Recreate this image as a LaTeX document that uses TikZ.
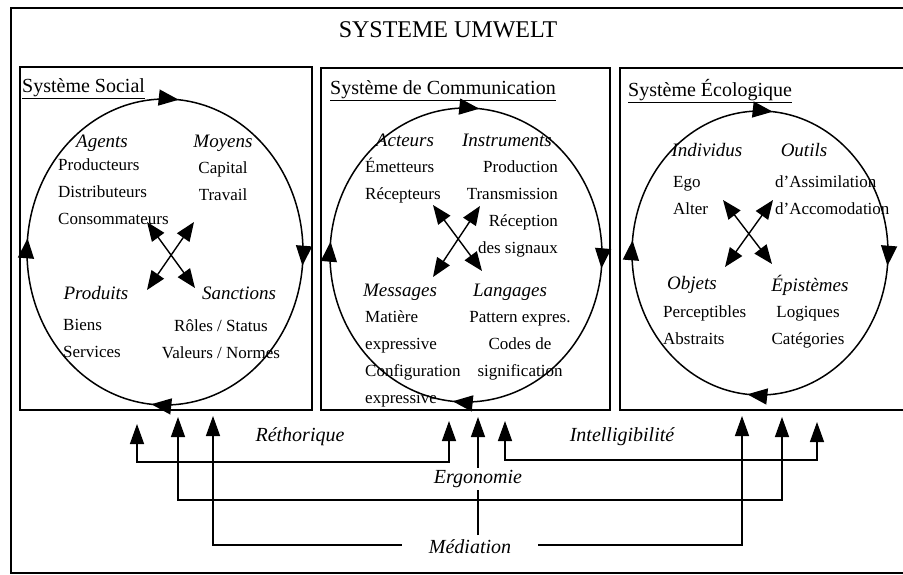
\documentclass[tikz,border=0pt]{standalone}
\usepackage{fontspec}
\setmainfont{Liberation Serif}
\usetikzlibrary{arrows.meta,decorations.markings,backgrounds}
\tikzset{
  frame/.style={line width=1.6pt},
  ring/.style={line width=1.5pt, postaction={decorate},
    decoration={markings,
      mark=at position 0.015 with {\arrow{Triangle[length=20pt,width=16pt]}},
      mark=at position 0.265 with {\arrow{Triangle[length=20pt,width=16pt]}},
      mark=at position 0.515 with {\arrow{Triangle[length=20pt,width=16pt]}},
      mark=at position 0.765 with {\arrow{Triangle[length=20pt,width=16pt]}}}},
  cross/.style={line width=1.4pt,
    {Triangle[length=19pt,width=15pt]}-{Triangle[length=19pt,width=15pt]}},
  loopback/.style={line width=1.4pt,
    {Triangle[length=20pt,width=14pt]}-{Triangle[length=20pt,width=14pt]}},
  feed/.style={line width=1.4pt,-{Triangle[length=20pt,width=14pt]}},
  systitle/.style={font=\fontsize{20}{24}\selectfont, inner sep=0pt, anchor=west},
  head/.style={font=\fontsize{19}{22}\selectfont\itshape, inner sep=0pt},
  body/.style={font=\fontsize{17}{27}\selectfont, inner sep=0pt},
  flow/.style={font=\fontsize{20}{24}\selectfont\itshape, fill=white, inner sep=2pt},
}

\begin{document}
\begin{tikzpicture}[x=1pt,y=-1pt]
  \useasboundingbox (0,0) rectangle (903,575);
  % frames
  \draw[frame] (11,8) rectangle (908,573);
  \node[font=\fontsize{24}{28}\selectfont] (umwelt) at (448,30) {SYSTEME UMWELT};
  \draw[frame] (20,67) rectangle (312,410);
  \draw[frame] (321,68) rectangle (610,410);
  \draw[frame] (620,68) rectangle (908,410);
  \node[systitle] (social) at (22,89) {\underline{Système Social}};
  \node[systitle] (comm) at (330,91) {\underline{Système de Communication}};
  \node[systitle] (eco) at (628,91) {\underline{Système Écologique}};

  % cycles, clockwise
  \draw[ring] (165,252) ellipse [x radius=138, y radius=153];
  \draw[ring] (466,255) ellipse [x radius=136, y radius=147];
  \draw[ring] (760,253) ellipse [x radius=128, y radius=142];

  % crossed exchanges
  \coordinate (s-nw) at (147,222); \coordinate (s-se) at (195,288);
  \coordinate (s-ne) at (194,222); \coordinate (s-sw) at (147,290);
  \coordinate (c-nw) at (433,205); \coordinate (c-se) at (482,271);
  \coordinate (c-ne) at (480,206); \coordinate (c-sw) at (433,277);
  \coordinate (e-nw) at (723,200); \coordinate (e-se) at (772,264);
  \coordinate (e-ne) at (773,200); \coordinate (e-sw) at (725,267);
  \foreach \s in {s,c,e}{
    \draw[cross] (\s-nw) -- (\s-se);
    \draw[cross] (\s-ne) -- (\s-sw);
  }

  % social system
  \node[head] (agents) at (102,143) {Agents};
  \node[body,anchor=north west,align=left] (agents-l) at (58,159)
    {Producteurs\\Distributeurs\\Consommateurs};
  \node[head] (moyens) at (223,143) {Moyens};
  \node[body,anchor=north,align=center] (moyens-l) at (223,162)
    {Capital\\Travail};
  \node[head] (produits) at (96,293) {Produits};
  \node[body,anchor=north west,align=left] (produits-l) at (63,319)
    {Biens\\Services};
  \node[head] (sanctions) at (239,293) {Sanctions};
  \node[body,anchor=north,align=center] (sanctions-l) at (221,319)
    {Rôles / Status\\Valeurs / Normes};

  % communication system
  \node[head] (acteurs) at (405,140) {Acteurs};
  \node[body,anchor=north west,align=left] (acteurs-l) at (365,158)
    {Émetteurs\\Récepteurs};
  \node[head] (instr) at (507,140) {Instruments};
  \node[body,anchor=north east,align=right] (instr-l) at (558,161)
    {Production\\Transmission\\Réception\\des signaux};
  \node[head] (messages) at (400,292) {Messages};
  \node[body,anchor=north west,align=left] (messages-l) at (365,310)
    {Matière\\expressive\\Configuration\\expressive};
  \node[head] (langages) at (510,292) {Langages};
  \node[body,anchor=north,align=center] (langages-l) at (520,311)
    {Pattern expres.\\Codes de\\signification};

  % ecological system
  \node[head] (individus) at (707,150) {Individus};
  \node[body,anchor=north west,align=left] (individus-l) at (673,176)
    {Ego\\Alter};
  \node[head] (outils) at (804,150) {Outils};
  \node[body,anchor=north west,align=left] (outils-l) at (775,176)
    {d'Assimilation\\d'Accomodation};
  \node[head] (objets) at (692,285) {Objets};
  \node[body,anchor=north west,align=left] (objets-l) at (663,306)
    {Perceptibles\\Abstraits};
  \node[head] (epist) at (810,285) {Épistèmes};
  \node[body,anchor=north,align=center] (epist-l) at (808,306)
    {Logiques\\Catégories};

  % couplings below the systems
  \node[flow,fill=none] (rhet) at (300,437) {Réthorique};
  \node[flow,fill=none] (intel) at (622,437) {Intelligibilité};
  \node[flow] (ergo) at (478,479) {Ergonomie};
  \node[flow,inner xsep=27pt] (media) at (470,547) {Médiation};
  \foreach \n/\x/\f/\t in {ra/137/462/424, rb/449/462/421, ia/505/460/421,
      ib/817/460/422, ea/178/500/417, eb/782/500/417, ma/213/545/416,
      mb/742/545/416, md/478/535/417}{
    \coordinate (\n-foot) at (\x,\f);
    \coordinate (\n-tip) at (\x,\t);
  }
  \begin{scope}[on background layer]
    \draw[loopback] (ra-tip) -- (ra-foot) -- (rb-foot) -- (rb-tip);
    \draw[loopback] (ia-tip) -- (ia-foot) -- (ib-foot) -- (ib-tip);
    \draw[loopback] (ea-tip) -- (ea-foot) -- (eb-foot) -- (eb-tip);
    \draw[loopback] (ma-tip) -- (ma-foot) -- (mb-foot) -- (mb-tip);
    \draw[feed] (md-foot) -- (md-tip);
  \end{scope}
\end{tikzpicture}
\end{document}
